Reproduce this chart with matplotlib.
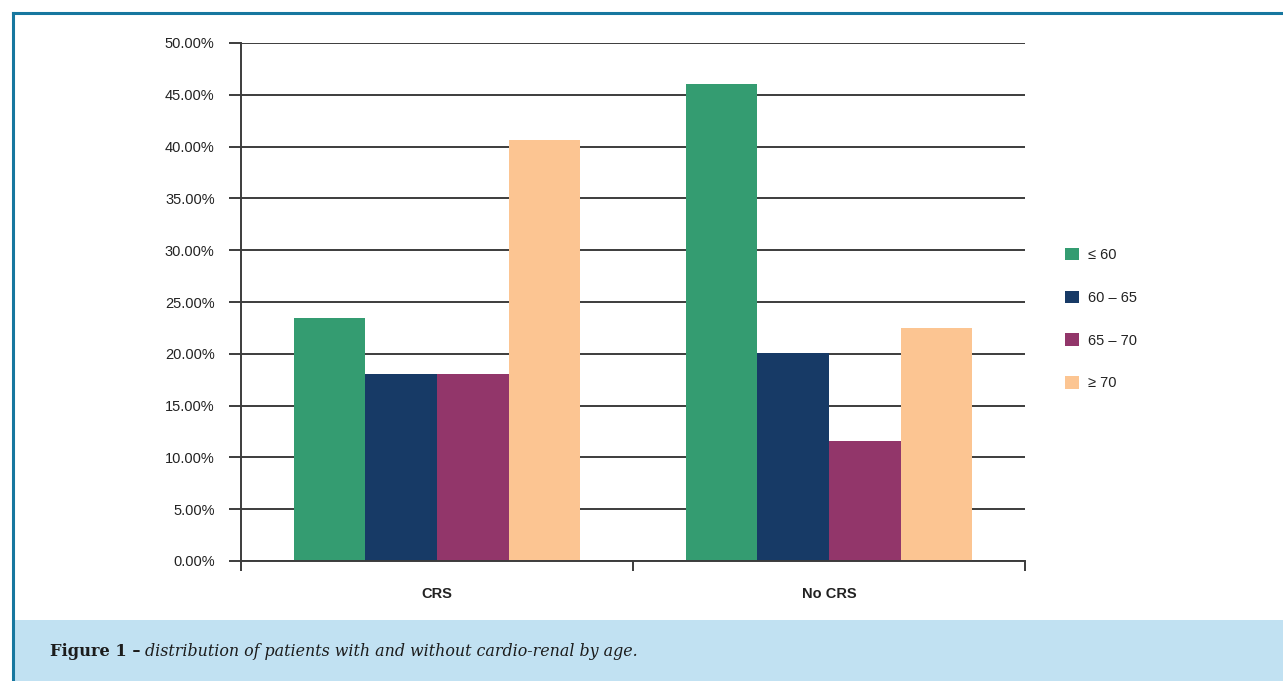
import matplotlib.pyplot as plt
from matplotlib.patches import Rectangle
from matplotlib.lines import Line2D
from matplotlib.ticker import FuncFormatter
import numpy as np

groups = ["CRS", "No CRS"]
age_bands = ["\u2264 60", "60 \u2013 65", "65 \u2013 70", "\u2265 70"]
crs = [23.45, 18.05, 18.05, 40.65]
no_crs = [46.05, 20.05, 11.55, 22.5]
colors = ["#349c71", "#173a66", "#92366a", "#fcc592"]

W, H = 1283, 681
plt.rcParams["font.family"] = ["Liberation Sans", "DejaVu Sans"]

fig = plt.figure(figsize=(W / 100, H / 100), dpi=100)

# frame: top and left rules plus caption band
fig.add_artist(Rectangle((14 / W, 0), 1 - 14 / W, 61 / H, transform=fig.transFigure,
                         facecolor="#c1e1f2", edgecolor="none", zorder=0))
fig.add_artist(Line2D([12.5 / W, 1], [1 - 13 / H, 1 - 13 / H], transform=fig.transFigure,
                      color="#17779f", lw=2.2))
fig.add_artist(Line2D([13 / W, 13 / W], [0, 1 - 13 / H], transform=fig.transFigure,
                      color="#17779f", lw=2.2))

ax = fig.add_axes([241 / W, 1 - 561 / H, 784 / W, 518 / H])

values = np.array([crs, no_crs])
x = np.arange(len(groups))
bw = 0.183
for i, band in enumerate(age_bands):
    ax.bar(x + (i - 1.5) * bw, values[:, i], width=bw, color=colors[i],
           label=band, zorder=2)

ax.set_xlim(-0.5, 1.5)
ax.set_ylim(0, 50)
ax.set_yticks(np.arange(0, 50.1, 5))
ax.yaxis.set_major_formatter(FuncFormatter(lambda v, _: f"{v:.2f}%"))
ax.grid(axis="y", color="#3c3c3c", lw=1.4, zorder=1)
ax.set_axisbelow(True)

ax.set_xticks([-0.5, 0.5, 1.5])
ax.set_xticklabels([])
for xi, g in zip(x, groups):
    ax.text(xi, -3.2, g, ha="center", va="center", fontsize=10.5,
            fontweight="bold", color="#222222")

for s in ["top", "right"]:
    ax.spines[s].set_visible(False)
for s in ["left", "bottom"]:
    ax.spines[s].set_color("#3c3c3c")
    ax.spines[s].set_linewidth(1.4)
ax.tick_params(axis="y", length=9, width=1.4, color="#3c3c3c",
               labelsize=10.5, labelcolor="#222222", pad=10)
ax.tick_params(axis="x", length=7, width=1.4, color="#3c3c3c")

ax.legend(loc="center left", bbox_to_anchor=(1.034, 0.467), frameon=False,
          fontsize=10.5, handlelength=0.95, handleheight=0.95,
          labelspacing=1.95, handletextpad=0.65, labelcolor="#222222")

fig.text(50 / W, 1 - 651 / H, "Figure 1 \u2013", fontsize=11.7,
         fontweight="bold", family="DejaVu Serif", va="center", color="#1c1c1c")
fig.text(145 / W, 1 - 651 / H, "distribution of patients with and without cardio-renal by age.",
         fontsize=11.4, style="italic", family="DejaVu Serif", va="center",
         color="#1c1c1c")

fig.savefig("out.png", dpi=100)
